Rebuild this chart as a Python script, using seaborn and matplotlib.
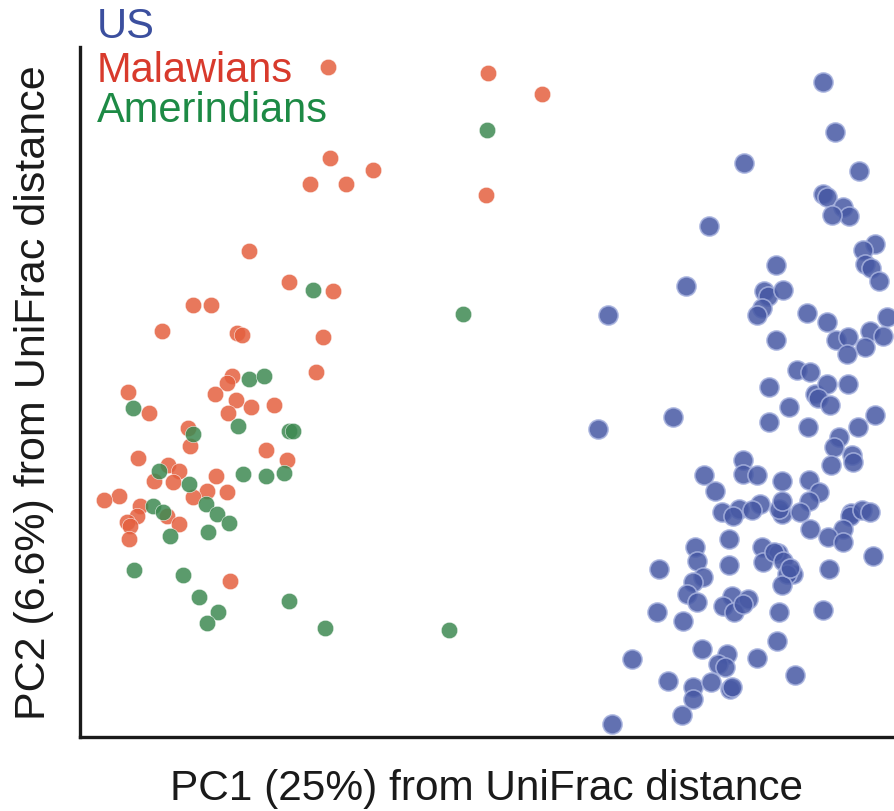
import matplotlib
matplotlib.use("Agg")
import matplotlib.pyplot as plt
import seaborn as sns
import pandas as pd

# PCoA scores (PC1, PC2) per sample, in plot units
us_pc1 = [743, 755, 664, 779, 743, 747, 763, 769, 752, 629, 795, 783, 785, 791, 799, 696, 606, 684, 688, 703, 682, 677,
          528, 727, 747, 807, 696, 756, 768, 790, 803, 785, 767, 717, 730, 768, 689, 735, 747, 738, 750, 709, 795, 593, 518,
          689, 728, 759, 778, 663, 754, 772, 773, 751, 624, 663, 677, 702, 729, 739, 729, 702, 680, 635, 699, 702, 771, 770,
          782, 763, 790, 642, 659, 672, 653, 720,
          730, 748, 763, 793, 615, 617, 649, 682, 698, 579, 649, 683, 694, 703, 713, 707, 702, 710, 749, 623, 613, 607, 617,
          652, 668, 643, 654, 663, 577, 603, 699, 743, 697, 622, 647, 638, 645, 677, 552, 715, 588, 613, 613, 631, 650, 652,
          602, 532]
us_pc2 = [655, 605, 574, 566, 543, 540, 530, 521, 522, 511, 493, 487, 473, 469, 456, 472, 451, 446, 441, 447, 429, 422,
          422, 424, 415, 420, 397, 397, 400, 406, 401, 390, 383, 367, 365, 353, 350, 343, 353, 339, 332, 330, 322, 320, 308,
          315, 310, 300, 310, 277, 290, 282, 275, 272, 262, 263, 262, 256, 257, 245, 236, 223, 233, 246, 228, 236, 224, 221,
          227, 208, 225, 225, 228, 227, 221, 225,
          208, 200, 195, 181, 190, 176, 198, 190, 184, 168, 172, 175, 185, 176, 163, 163, 152, 169, 168, 160, 155, 143, 135,
          141, 138, 131, 125, 133, 125, 116, 125, 127, 96, 88, 83, 73, 70, 79, 78, 62, 56, 50, 38, 55, 48, 50, 22, 13]

mal_pc1 = [248, 408, 462, 250, 293, 230, 266, 406, 169, 209, 253,
           113, 131, 82, 157, 162, 243, 236, 152, 147, 48, 135, 156, 69, 171, 194, 148, 108, 110, 186, 207,
           58, 88, 99, 74, 93, 136, 147, 127, 39, 24, 113, 60, 57, 47, 50, 49, 87, 99, 150]
mal_pc2 = [670, 664, 643, 579, 567, 553, 553, 542, 486, 455, 446,
           432, 432, 406, 404, 402, 400, 365, 361, 354, 345, 343, 337, 324, 330, 332, 324, 309, 291, 287, 277,
           279, 272, 266, 256, 255, 261, 245, 246, 241, 237, 240, 231, 221, 215, 211, 198, 221, 213, 156]

ame_pc1 = [407, 383, 233, 169, 184, 53, 158, 209, 213, 113, 163, 186, 204, 79, 109, 126, 73, 83, 90, 137, 149, 128,
           54, 103, 119, 138, 127, 209, 245, 369]
ame_pc2 = [607, 423, 447, 358, 361, 329, 311, 306, 306, 303, 263, 261, 264, 266, 253, 233, 231, 225, 201, 223, 214, 205,
           167, 162, 140, 125, 114, 136, 109, 107]

groups = ["US", "Malawians", "Amerindians"]
colors = {"US": "#4658a4", "Malawians": "#e4603f", "Amerindians": "#3e8a52"}
label_colors = {"US": "#3b4f9e", "Malawians": "#d83a2c", "Amerindians": "#1d8a45"}

df = pd.DataFrame({
    "PC1": us_pc1 + mal_pc1 + ame_pc1,
    "PC2": us_pc2 + mal_pc2 + ame_pc2,
    "group": ["US"] * len(us_pc1) + ["Malawians"] * len(mal_pc1) + ["Amerindians"] * len(ame_pc1),
})

sns.set_style("white")
plt.rcParams["font.family"] = ["Liberation Sans", "DejaVu Sans"]

fig = plt.figure(figsize=(8.94, 8.12), dpi=100)
ax = fig.add_axes([80 / 894, 74 / 812, 814 / 894, 690 / 812])

sns.scatterplot(data=df[df.group == "US"], x="PC1", y="PC2", color=colors["US"], s=190,
                alpha=0.85, edgecolor="#a7b2de", linewidth=1.2, legend=False, ax=ax)
for g in ["Malawians", "Amerindians"]:
    sns.scatterplot(data=df[df.group == g], x="PC1", y="PC2", color=colors[g], s=140,
                    alpha=0.85, edgecolor="white", linewidth=0.4, legend=False, ax=ax)

ax.set_xlim(0, 814)
ax.set_ylim(0, 690)
ax.set_xticks([])
ax.set_yticks([])
for side in ["top", "right"]:
    ax.spines[side].set_visible(False)
for side in ["left", "bottom"]:
    ax.spines[side].set_color("#1a1a1a")
    ax.spines[side].set_linewidth(2.4)

ax.set_xlabel("PC1 (25%) from UniFrac distance", fontsize=30.5, labelpad=22, color="#1a1a1a")
ax.set_ylabel("PC2 (6.6%) from UniFrac distance", fontsize=31, labelpad=19, color="#1a1a1a")

# group labels stacked at the top left, coloured like their points
for g, base in zip(groups, [38, 82, 122]):
    fig.text(97 / 894, 1 - base / 812, g, fontsize=30, color=label_colors[g],
             ha="left", va="baseline")

fig.savefig("out.png", dpi=100)
